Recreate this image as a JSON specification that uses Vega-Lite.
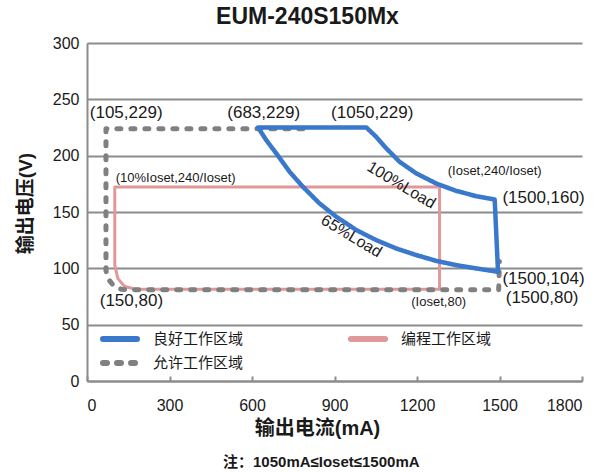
{
  "$schema": "https://vega.github.io/schema/vega-lite/v6.json",
  "width": 495,
  "height": 338,
  "autosize": {"type": "none"},
  "padding": {"left": 87, "top": 43, "right": 29, "bottom": 92},
  "title": {"text": "EUM-240S150Mx", "fontSize": 23, "fontWeight": "bold", "color": "#1a1a1a", "anchor": "middle", "frame": "group", "dx": -27, "offset": 6},
  "datasets": {
    "regions": [
      {"region": "编程工作区域", "o": 1, "x": 101, "y": 103},
      {"region": "编程工作区域", "o": 2, "x": 101, "y": 172.3},
      {"region": "编程工作区域", "o": 3, "x": 1282, "y": 172.3},
      {"region": "编程工作区域", "o": 4, "x": 1282, "y": 81.5},
      {"region": "编程工作区域", "o": 5, "x": 174, "y": 81.5},
      {"region": "编程工作区域", "o": 6, "x": 137, "y": 84},
      {"region": "编程工作区域", "o": 7, "x": 112, "y": 91},
      {"region": "编程工作区域", "o": 8, "x": 101, "y": 103},
      {"region": "允许工作区域", "o": 1, "x": 785, "y": 224},
      {"region": "允许工作区域", "o": 2, "x": 69, "y": 224},
      {"region": "允许工作区域", "o": 3, "x": 69, "y": 98},
      {"region": "允许工作区域", "o": 4, "x": 76, "y": 91},
      {"region": "允许工作区域", "o": 5, "x": 95, "y": 85},
      {"region": "允许工作区域", "o": 6, "x": 125, "y": 81.5},
      {"region": "允许工作区域", "o": 7, "x": 155, "y": 81},
      {"region": "允许工作区域", "o": 8, "x": 1497, "y": 81},
      {"region": "允许工作区域", "o": 9, "x": 1500, "y": 106},
      {"region": "良好工作区域", "o": 1, "x": 622, "y": 225},
      {"region": "良好工作区域", "o": 2, "x": 1016, "y": 225},
      {"region": "良好工作区域", "o": 3, "x": 1052, "y": 216.6},
      {"region": "良好工作区域", "o": 4, "x": 1089, "y": 206.3},
      {"region": "良好工作区域", "o": 5, "x": 1137, "y": 194.5},
      {"region": "良好工作区域", "o": 6, "x": 1198, "y": 184.2},
      {"region": "良好工作区域", "o": 7, "x": 1270, "y": 175.3},
      {"region": "良好工作区域", "o": 8, "x": 1343, "y": 168.7},
      {"region": "良好工作区域", "o": 9, "x": 1416, "y": 164},
      {"region": "良好工作区域", "o": 10, "x": 1482.5, "y": 161.1},
      {"region": "良好工作区域", "o": 11, "x": 1494.6, "y": 96.9},
      {"region": "良好工作区域", "o": 12, "x": 1416, "y": 99.9},
      {"region": "良好工作区域", "o": 13, "x": 1343, "y": 102.8},
      {"region": "良好工作区域", "o": 14, "x": 1270, "y": 106.6},
      {"region": "良好工作区域", "o": 15, "x": 1198, "y": 111.7},
      {"region": "良好工作区域", "o": 16, "x": 1125, "y": 117.6},
      {"region": "良好工作区域", "o": 17, "x": 1052, "y": 125},
      {"region": "良好工作区域", "o": 18, "x": 980, "y": 133.9},
      {"region": "良好工作区域", "o": 19, "x": 907, "y": 145.7},
      {"region": "良好工作区域", "o": 20, "x": 846, "y": 157.5},
      {"region": "良好工作区域", "o": 21, "x": 785.5, "y": 172.3},
      {"region": "良好工作区域", "o": 22, "x": 737, "y": 185.6},
      {"region": "良好工作区域", "o": 23, "x": 688.7, "y": 201.9},
      {"region": "良好工作区域", "o": 24, "x": 652, "y": 213.7},
      {"region": "良好工作区域", "o": 25, "x": 622, "y": 225}
    ],
    "labels": [
      {"g": "big", "text": "(105,229)", "x": 142.5, "y": 237.6},
      {"g": "big", "text": "(683,229)", "x": 642.5, "y": 237.6},
      {"g": "big", "text": "(1050,229)", "x": 1037, "y": 237.6},
      {"g": "big", "text": "(1500,160)", "x": 1660, "y": 162},
      {"g": "big", "text": "(1500,104)", "x": 1660, "y": 90.4},
      {"g": "big", "text": "(1500,80)", "x": 1655, "y": 73.3},
      {"g": "big", "text": "(150,80)", "x": 161.5, "y": 70.9},
      {"g": "small", "text": "(10%Ioset,240/Ioset)", "x": 322.5, "y": 180.6},
      {"g": "small", "text": "(Ioset,240/Ioset)", "x": 1482.5, "y": 186.2},
      {"g": "small", "text": "(Ioset,80)", "x": 1279, "y": 70},
      {"g": "rot", "text": "100%Load", "x": 1143, "y": 173.8},
      {"g": "rot", "text": "65%Load", "x": 961.5, "y": 128.5},
      {"g": "note", "text": "注：1050mA≤Ioset≤1500mA", "x": 852, "y": -71.8}
    ]
  },
  "encoding": {
    "x": {"field": "x", "type": "quantitative",
      "scale": {"domain": [0, 1800], "nice": false},
      "axis": {"values": [0, 300, 600, 900, 1200, 1500, 1800], "format": "d", "grid": false, "tickSize": -5, "tickColor": "#8c8c8c", "tickWidth": 2,
        "domainColor": "#8c8c8c", "domainWidth": 2, "labelPadding": 21, "labelFontSize": 16, "labelColor": "#1a1a1a",
        "title": "输出电流(mA)", "titleFontSize": 20, "titleFontWeight": "bold", "titleColor": "#1a1a1a",
        "titleX": 230, "titleY": 47, "titleBaseline": "middle", "titleAlign": "center"}},
    "y": {"field": "y", "type": "quantitative",
      "scale": {"domain": [0, 300], "nice": false},
      "axis": {"values": [0, 50, 100, 150, 200, 250, 300], "grid": true, "gridColor": "#8c8c8c", "gridWidth": 2, "ticks": false,
        "domainColor": "#8c8c8c", "domainWidth": 2, "labelPadding": 8, "labelFontSize": 16, "labelColor": "#1a1a1a",
        "title": "输出电压(V)", "titleFontSize": 19, "titleFontWeight": "bold", "titleColor": "#1a1a1a",
        "titleX": -62, "titleY": 160, "titleBaseline": "middle", "titleAlign": "center", "titleAngle": -90}}
  },
  "layer": [
    {
      "data": {"name": "regions"},
      "transform": [{"filter": "datum.region === '编程工作区域'"}],
      "mark": {"type": "line", "strokeWidth": 3, "strokeJoin": "round", "strokeCap": "round"},
      "encoding": {
        "order": {"field": "o", "type": "quantitative"},
        "color": {"field": "region", "type": "nominal",
          "scale": {"domain": ["良好工作区域", "允许工作区域", "编程工作区域"], "range": ["#3a78cc", "#808080", "#e09898"]},
          "legend": {"title": null, "orient": "none", "legendX": 22, "legendY": 285, "columns": 2, "columnPadding": 95, "rowPadding": 0,
            "symbolType": "M-2.125,0H2.125", "symbolSize": 256, "symbolStrokeWidth": 6, "labelFontSize": 15, "labelOffset": 22, "labelColor": "#1a1a1a",
            "encode": {"symbols": {"update": {"strokeCap": {"value": "round"}}}}}},
        "strokeDash": {"field": "region", "type": "nominal",
          "scale": {"domain": ["良好工作区域", "允许工作区域", "编程工作区域"], "range": [[1, 0], [4, 10], [1, 0]]},
          "legend": {"title": null, "orient": "none", "legendX": 22, "legendY": 285, "columns": 2, "columnPadding": 95, "rowPadding": 0,
            "symbolType": "M-2.125,0H2.125", "symbolSize": 256, "symbolStrokeWidth": 6, "labelFontSize": 15, "labelOffset": 22, "labelColor": "#1a1a1a",
            "encode": {"symbols": {"update": {"strokeCap": {"value": "round"}}}}}}
      }
    },
    {
      "data": {"name": "regions"},
      "transform": [{"filter": "datum.region === '允许工作区域'"}],
      "mark": {"type": "line", "strokeWidth": 5, "strokeJoin": "round", "strokeCap": "round"},
      "encoding": {
        "order": {"field": "o", "type": "quantitative"},
        "color": {"field": "region", "type": "nominal"},
        "strokeDash": {"field": "region", "type": "nominal"}
      }
    },
    {
      "data": {"name": "regions"},
      "transform": [{"filter": "datum.region === '良好工作区域'"}],
      "mark": {"type": "line", "strokeWidth": 4.5, "strokeJoin": "round", "strokeCap": "round"},
      "encoding": {
        "order": {"field": "o", "type": "quantitative"},
        "color": {"field": "region", "type": "nominal"},
        "strokeDash": {"field": "region", "type": "nominal"}
      }
    },
    {
      "data": {"name": "labels"},
      "transform": [{"filter": "datum.g === 'big'"}],
      "mark": {"type": "text", "fontSize": 17, "color": "#1a1a1a", "align": "center", "baseline": "middle"},
      "encoding": {"text": {"field": "text"}}
    },
    {
      "data": {"name": "labels"},
      "transform": [{"filter": "datum.g === 'small'"}],
      "mark": {"type": "text", "fontSize": 13, "color": "#1a1a1a", "align": "center", "baseline": "middle"},
      "encoding": {"text": {"field": "text"}}
    },
    {
      "data": {"name": "labels"},
      "transform": [{"filter": "datum.g === 'rot'"}],
      "mark": {"type": "text", "fontSize": 16, "angle": 31, "color": "#1a1a1a", "align": "center", "baseline": "middle"},
      "encoding": {"text": {"field": "text"}}
    },
    {
      "data": {"name": "labels"},
      "transform": [{"filter": "datum.g === 'note'"}],
      "mark": {"type": "text", "fontSize": 15, "fontWeight": "bold", "color": "#1a1a1a", "align": "center", "baseline": "middle"},
      "encoding": {"text": {"field": "text"}}
    }
  ],
  "config": {
    "font": "Liberation Sans, Noto Sans CJK SC, sans-serif",
    "view": {"stroke": null}
  }
}
